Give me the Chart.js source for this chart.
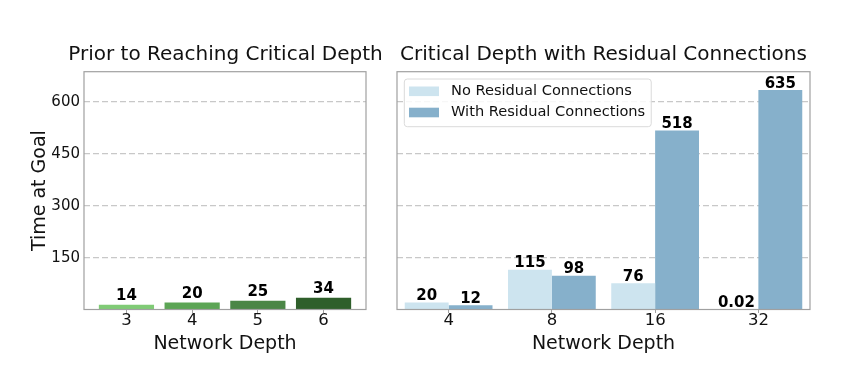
<!DOCTYPE html>
<html>
<head>
<meta charset="utf-8">
<script src="https://cdn.jsdelivr.net/npm/chart.js@4.4.1/dist/chart.umd.min.js"></script>
<style>
html,body{margin:0;padding:0;background:#fff;width:848px;height:379px;overflow:hidden}
canvas{position:absolute;top:0}
#c1{left:0}
#c2{left:359px}
</style>
</head>
<body>
<canvas id="c1" width="451" height="379"></canvas>
<canvas id="c2" width="489" height="379"></canvas>
<script>
// ---- data ----
const leftDepths = ['3', '4', '5', '6'];
const leftTimes = [14, 20, 25, 34];
const leftColors = ['#80cb76', '#5ca555', '#4b8646', '#2f5f2b'];

const rightDepths = ['4', '8', '16', '32'];
const noResidual = [20, 115, 76, 0.02];
const withResidual = [12, 98, 518, 635];
const seriesNames = ['No Residual Connections', 'With Residual Connections'];
const seriesColors = ['#cde4ef', '#86b0cb'];

const yTicks = [150, 300, 450, 600];
const yMax = 688;

// ---- shared styling ----
const FONT = 'DejaVu Sans';
Chart.defaults.font.family = FONT;
Chart.defaults.color = '#111';

const gridDash = [6, 3];
const gridColor = '#c8c8c8';
const spineColor = '#a0a0a0';

const frameBox = {
  id: 'frameBox',
  afterDraw(chart) {
    const a = chart.chartArea, ctx = chart.ctx;
    ctx.save();
    ctx.strokeStyle = spineColor;
    ctx.lineWidth = 1.2;
    ctx.strokeRect(a.left, a.top, a.right - a.left, a.bottom - a.top);
    ctx.restore();
  }
};

const valueLabels = {
  id: 'valueLabels',
  afterDatasetsDraw(chart, args, opts) {
    const ctx = chart.ctx;
    ctx.save();
    ctx.font = 'bold 15px "' + FONT + '"';
    ctx.fillStyle = '#000';
    ctx.textAlign = 'center';
    ctx.textBaseline = 'alphabetic';
    chart.data.datasets.forEach((ds, di) => {
      const meta = chart.getDatasetMeta(di);
      meta.data.forEach((bar, i) => {
        const d = ds.data[i];
        const v = (typeof d === 'object') ? d.y : d;
        ctx.fillText(String(v), bar.x, bar.y - opts.gap);
      });
    });
    ctx.restore();
  }
};

const boxLegend = {
  id: 'boxLegend',
  afterDatasetsDraw(chart, args, opts) {
    if (!opts.show) return;
    const a = chart.chartArea, ctx = chart.ctx;
    ctx.save();
    ctx.font = '14.6px "' + FONT + '"';
    const names = chart.data.datasets.map(d => d.label);
    const tw = Math.max(...names.map(n => ctx.measureText(n).width));
    const fx = a.left + 7.3, fy = a.top + 7.3;
    const fw = 46.7 + tw + 6, fh = 47.7;
    ctx.beginPath();
    ctx.roundRect(fx, fy, fw, fh, 3);
    ctx.fillStyle = 'rgba(255,255,255,0.85)';
    ctx.fill();
    ctx.strokeStyle = '#dadada';
    ctx.lineWidth = 1;
    ctx.stroke();
    chart.data.datasets.forEach((ds, i) => {
      const cy = fy + 12.3 + i * 21.2;
      ctx.fillStyle = ds.backgroundColor;
      ctx.fillRect(fx + 4.7, cy - 4.8, 30, 9.6);
      ctx.fillStyle = '#111';
      ctx.textAlign = 'left';
      ctx.textBaseline = 'middle';
      ctx.fillText(ds.label, fx + 46.7, cy);
    });
    ctx.restore();
  }
};

function titleOpts(text) {
  return {
    display: true, text: text, color: '#111',
    font: {family: FONT, size: 20, weight: 'normal'},
    padding: {top: 42.8, bottom: 4.9}
  };
}

function xAxisCommon() {
  return {
    border: {display: false},
    grid: {display: true, drawOnChartArea: false, drawTicks: true, tickLength: 3.5, color: spineColor, offset: false},
    ticks: {font: {size: 16.5}, color: '#111', padding: -1.9, maxRotation: 0, autoSkip: false},
    title: {display: true, text: 'Network Depth', color: '#111', font: {size: 19}, padding: {top: 0, bottom: 23.6}},
    afterFit: s => { s.height = 69.5; }
  };
}

function yAxis(width, showLabels) {
  return {
    min: 0, max: yMax,
    afterBuildTicks: s => { s.ticks = yTicks.map(v => ({value: v})); },
    border: {display: false, dash: gridDash},
    grid: {color: gridColor, lineWidth: 1.3, drawTicks: false},
    ticks: {display: showLabels, font: {size: 15}, color: '#111', padding: 4},
    title: {display: showLabels, text: 'Time at Goal', color: '#111', font: {size: 19}, padding: {top: 29, bottom: 0}},
    afterFit: s => { s.width = width; }
  };
}

function dummyRight(width) {
  return {
    position: 'right', display: true,
    ticks: {display: false}, grid: {display: false}, border: {display: false},
    afterFit: s => { s.width = width; }
  };
}

// ---- left chart ----
const xLeft = Object.assign(xAxisCommon(), {
  type: 'linear', min: -0.646, max: 3.646, offset: false,
  afterBuildTicks: s => { s.ticks = leftDepths.map((_, i) => ({value: i})); }
});
xLeft.ticks.callback = v => leftDepths[v];

new Chart(document.getElementById('c1'), {
  type: 'bar',
  data: {
    datasets: [{
      label: 'Time at Goal',
      data: leftTimes.map((v, i) => ({x: i, y: v})),
      backgroundColor: leftColors,
      categoryPercentage: 1,
      barPercentage: 0.84
    }]
  },
  options: {
    responsive: false, animation: false, devicePixelRatio: 1,
    layout: {padding: 0},
    plugins: {
      legend: {display: false}, tooltip: {enabled: false},
      title: titleOpts('Prior to Reaching Critical Depth'),
      valueLabels: {gap: 5},
      boxLegend: {show: false}
    },
    scales: {
      x: xLeft,
      y: yAxis(84, true),
      yR: dummyRight(85)
    }
  },
  plugins: [frameBox, valueLabels, boxLegend]
});

// ---- right chart ----
const xRight = Object.assign(xAxisCommon(), {type: 'category', offset: true});

new Chart(document.getElementById('c2'), {
  type: 'bar',
  data: {
    labels: rightDepths,
    datasets: [
      {label: seriesNames[0], data: noResidual, backgroundColor: seriesColors[0], categoryPercentage: 0.85, barPercentage: 1},
      {label: seriesNames[1], data: withResidual, backgroundColor: seriesColors[1], categoryPercentage: 0.85, barPercentage: 1}
    ]
  },
  options: {
    responsive: false, animation: false, devicePixelRatio: 1,
    layout: {padding: 0},
    plugins: {
      legend: {display: false}, tooltip: {enabled: false},
      title: titleOpts('Critical Depth with Residual Connections'),
      valueLabels: {gap: 2.5},
      boxLegend: {show: true}
    },
    scales: {
      x: xRight,
      y: yAxis(38, false),
      yR: dummyRight(38)
    }
  },
  plugins: [frameBox, valueLabels, boxLegend]
});
</script>
</body>
</html>
